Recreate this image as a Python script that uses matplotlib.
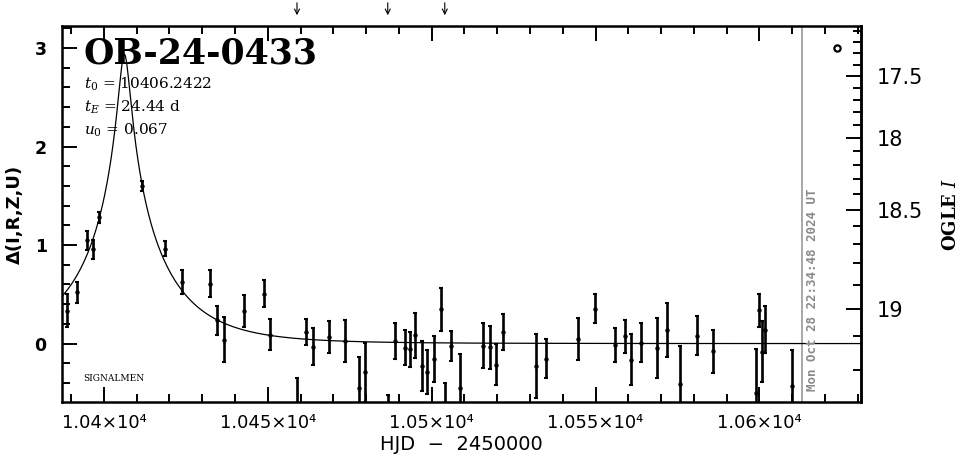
import numpy as np
import matplotlib
matplotlib.use('Agg')
import matplotlib.pyplot as plt
from matplotlib.ticker import FixedLocator, MultipleLocator, FixedFormatter

# ---------------- data ----------------
event_name = "OB-24-0433"
t0 = 10406.2422
tE = 24.44
u0 = 0.067
I_base = 19.123
f_source = 0.31
now_hjd = 10612.9
now_label = "Mon Oct 28 22:34:48 2024 UT"
credit = "SIGNALMEN"

hjd = [10388.6, 10391.7, 10394.7, 10396.7, 10398.6, 10411.7, 10418.7, 10423.7,
       10432.5, 10434.6, 10436.7, 10442.8, 10448.9, 10450.8, 10458.9, 10461.7,
       10463.8, 10468.6, 10473.7, 10477.8, 10479.7, 10486.6, 10488.8, 10491.8,
       10493.5, 10495.0, 10496.9, 10498.6, 10500.7, 10502.7, 10504.0, 10505.8,
       10508.5, 10515.6, 10517.8, 10519.7, 10521.7, 10531.9, 10535.0, 10544.8,
       10549.7, 10555.9, 10558.9, 10560.9, 10563.8, 10568.8, 10571.8, 10575.8,
       10580.9, 10585.8, 10599.0, 10599.8, 10600.8, 10601.8, 10610.0]
delta = [0.335, 0.52, 1.048, 0.958, 1.28, 1.60, 0.965, 0.628,
         0.608, 0.235, 0.04, 0.33, 0.508, 0.09, -0.65, 0.118,
         -0.03, 0.067, 0.026, -0.447, -0.289, -0.80, 0.026, -0.041,
         -0.058, 0.084, -0.228, -0.288, -0.16, 0.349, -0.70, -0.024,
         -0.454, -0.02, -0.038, -0.217, 0.115, -0.231, -0.152, 0.044,
         0.356, -0.014, 0.074, -0.163, 0.01, -0.048, 0.138, -0.41,
         0.082, -0.078, -0.50, 0.338, -0.085, 0.142, -0.434]
err = [0.168, 0.103, 0.097, 0.097, 0.054, 0.046, 0.075, 0.12,
       0.138, 0.15, 0.229, 0.163, 0.141, 0.158, 0.30, 0.136,
       0.19, 0.166, 0.217, 0.31, 0.30, 0.28, 0.178, 0.178,
       0.18, 0.227, 0.258, 0.222, 0.234, 0.218, 0.30, 0.151,
       0.35, 0.224, 0.22, 0.208, 0.183, 0.325, 0.198, 0.213,
       0.151, 0.169, 0.169, 0.258, 0.202, 0.303, 0.27, 0.39,
       0.202, 0.22, 0.44, 0.166, 0.31, 0.237, 0.37]

marker_hjd = [10623.8]
marker_delta = [3.0]

x_limits = [10387.2, 10631.0]
y_limits = [-0.593, 3.224]
x_major = [10400, 10450, 10500, 10550, 10600]
x_labels = ['1.04\u00d710\u2074', '1.045\u00d710\u2074', '1.05\u00d710\u2074',
            '1.055\u00d710\u2074', '1.06\u00d710\u2074']
y_major = [0, 1, 2, 3]
y_labels = ['0', '1', '2', '3']
mag_major = [17.5, 18.0, 18.5, 19.0]
mag_labels = ['17.5', '18', '18.5', '19']
mag_minor = [17.1, 17.2, 17.3, 17.4, 17.6, 17.7, 17.8, 17.9, 18.1, 18.2, 18.3,
             18.4, 18.6, 18.7, 18.8, 18.9, 19.1, 19.2]

# ---------------- figure ----------------
W, H = 965, 459
fig = plt.figure(figsize=(W / 100, H / 100), dpi=100)
L, R, T, B = 62, 861, 26, 402
ax = fig.add_axes([L / W, (H - B) / H, (R - L) / W, (B - T) / H])
ax.set_xlim(*x_limits)
ax.set_ylim(*y_limits)

# model curve
tt = np.linspace(x_limits[0], x_limits[1], 2000)
uu = np.sqrt(u0 ** 2 + ((tt - t0) / tE) ** 2)
AA = (uu ** 2 + 2) / (uu * np.sqrt(uu ** 2 + 4))
ax.plot(tt, 2.5 * np.log10(AA), color='black', lw=0.9, zorder=2)

# data
ax.errorbar(hjd, delta, yerr=err, fmt='o', ms=2.2, color='black', ecolor='black',
            elinewidth=1.9, capsize=1.6, capthick=1.5, zorder=3)
ax.plot(marker_hjd, marker_delta, 'o', ms=4.5, mfc='white', mec='black', mew=1.6)

# arrows for points below the plot
for x, y in zip(hjd, delta):
    if y < y_limits[0]:
        ax.annotate('', xy=(x, 1 + 8 / 376), xytext=(x, 1 + 26 / 376),
                    xycoords=('data', 'axes fraction'), textcoords=('data', 'axes fraction'),
                    arrowprops=dict(arrowstyle='->', lw=0.8, color='black', mutation_scale=9),
                    annotation_clip=False)

# current time line
ax.axvline(now_hjd, color='#999999', lw=1.2, zorder=1)
ax.annotate(now_label, xy=(now_hjd, 0.03), xycoords=('data', 'axes fraction'),
            xytext=(3, 0), textcoords='offset points', rotation=90,
            rotation_mode='anchor', ha='left', va='top', color='#8a8a8a',
            fontsize=9, fontweight='bold', family='DejaVu Sans Mono')

# texts
ax.text(0.027, 0.973, event_name, transform=ax.transAxes, ha='left', va='top',
        fontsize=25, fontweight='bold', family='DejaVu Serif', zorder=5)
params = [r'$t_0$ = %.4f' % t0, r'$t_E$ = %.2f d' % tE, r'$u_0$ = %.3f' % u0]
for i, s in enumerate(params):
    ax.text(0.027, 0.845 - i * 0.061, s, transform=ax.transAxes, ha='left', va='center',
            fontsize=11, family='DejaVu Serif', math_fontfamily='dejavuserif', zorder=5)
ax.text(0.027, 0.062, credit, transform=ax.transAxes, ha='left', va='center',
        fontsize=6.5, family='DejaVu Serif')

# axes styling
for s in ax.spines.values():
    s.set_linewidth(1.8)
ax.xaxis.set_major_locator(FixedLocator(x_major))
ax.xaxis.set_major_formatter(FixedFormatter(x_labels))
ax.xaxis.set_minor_locator(MultipleLocator(10))
ax.yaxis.set_major_locator(FixedLocator(y_major))
ax.yaxis.set_major_formatter(FixedFormatter(y_labels))
ax.yaxis.set_minor_locator(MultipleLocator(0.2))
ax.tick_params(axis='x', which='both', direction='in', top=True, bottom=True, width=1.4)
ax.tick_params(axis='y', which='both', direction='in', left=True, right=False, width=1.4)
ax.tick_params(which='major', length=11)
ax.tick_params(which='minor', length=5.5)
ax.tick_params(axis='x', labelsize=13, pad=9)
ax.tick_params(axis='y', labelsize=12.5, pad=11)
for lab in ax.get_yticklabels():
    lab.set_fontweight('bold')

ax.set_xlabel('HJD  \u2212  2450000', fontsize=14, labelpad=2)
ax.set_ylabel('\u0394(I,R,Z,U)', fontsize=13, fontweight='bold', labelpad=8)

# secondary magnitude axis
def d2m(d):
    d = np.asarray(d, dtype=float)
    A = 10 ** (0.4 * d)
    v = np.clip(f_source * (A - 1) + 1, 1e-6, None)
    return I_base - 2.5 * np.log10(v)

def m2d(m):
    m = np.asarray(m, dtype=float)
    F = 10 ** (0.4 * (I_base - m))
    A = np.clip((F - 1) / f_source + 1, 1e-6, None)
    return 2.5 * np.log10(A)

sec = ax.secondary_yaxis('right', functions=(d2m, m2d))
sec.yaxis.set_major_locator(FixedLocator(mag_major))
sec.yaxis.set_major_formatter(FixedFormatter(mag_labels))
sec.yaxis.set_minor_locator(FixedLocator(mag_minor))
sec.tick_params(which='both', direction='in', width=1.4, labelsize=15, pad=11)
sec.tick_params(which='major', length=11)
sec.tick_params(which='minor', length=5.5)
sec.spines['right'].set_linewidth(1.8)
sec.set_ylabel(r'OGLE $I$', fontsize=13, fontweight='bold', family='DejaVu Serif',
               math_fontfamily='dejavuserif', rotation=90, labelpad=14)

fig.savefig('out.png', dpi=100)
